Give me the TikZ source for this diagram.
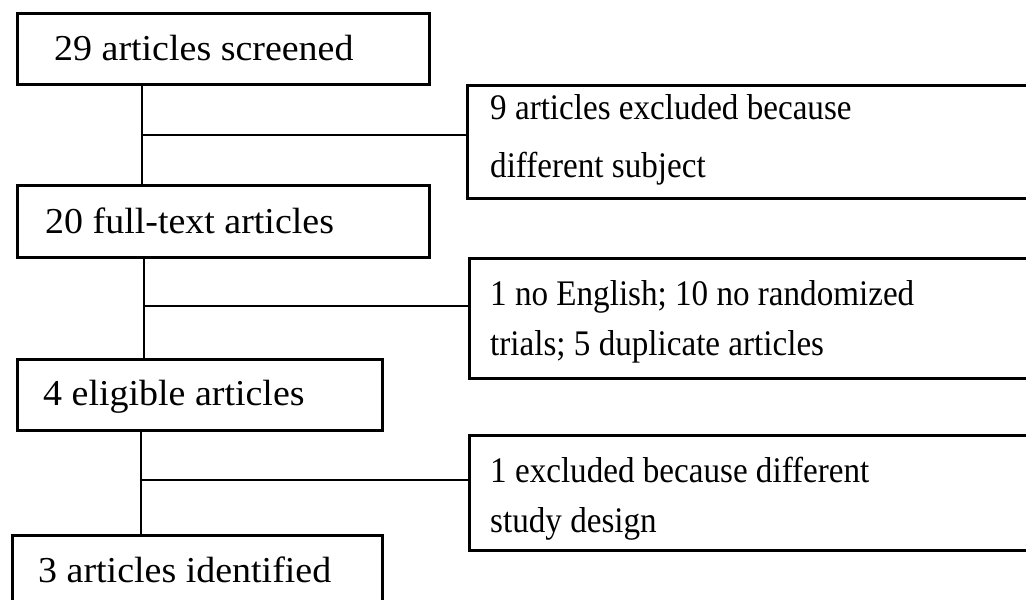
\documentclass[tikz,border=0pt]{standalone}
\usepackage{fontspec}
\setmainfont{Liberation Serif}
\newfontfamily\narrowfont[FakeStretch=0.92]{Liberation Serif}
\newfontfamily\widefont[FakeStretch=1.04]{Liberation Serif}
\begin{document}
\begin{tikzpicture}[x=1pt,y=-1pt,
  boxline/.style={draw=black,line width=2.6pt,inner sep=0pt,anchor=north west},
  conn/.style={draw=black,line width=2.6pt},
  txt/.style={anchor=base west,inner sep=0pt,font=\narrowfont\fontsize{36}{40}\selectfont},
  wtxt/.style={anchor=base west,inner sep=0pt,font=\widefont\fontsize{36.5}{40}\selectfont}]
\clip (0,0) rectangle (1026,600);
\fill[white] (0,0) rectangle (1026,600);
% boxes
\node[boxline,minimum width=412pt,minimum height=71pt] (b1) at (16,12) {};
\node[boxline,minimum width=412pt,minimum height=72pt] (b2) at (16,184) {};
\node[boxline,minimum width=365pt,minimum height=71pt] (b3) at (16,358) {};
\node[boxline,minimum width=370pt,minimum height=110pt] (b4) at (11,534) {};
\node[boxline,minimum width=600pt,minimum height=113pt] (r1) at (466,84) {};
\node[boxline,minimum width=600pt,minimum height=120pt] (r2) at (468,257) {};
\node[boxline,minimum width=600pt,minimum height=115pt] (r3) at (468,434) {};
% texts
\node[wtxt] (t1) at (54,60) {29 articles screened};
\node[wtxt] (t2) at (45,233) {20 full-text articles};
\node[wtxt] (t3) at (43,405) {4 eligible articles};
\node[wtxt] (t4) at (38,582) {3 articles identified};
\node[txt] (r1a) at (490,119) {9 articles excluded because};
\node[txt] (r1b) at (490,177) {different subject};
\node[txt] (r2a) at (490,305) {1 no English; 10 no randomized};
\node[txt] (r2b) at (490,355) {trials; 5 duplicate articles};
\node[txt] (r3a) at (490,482) {1 excluded because different};
\node[txt] (r3b) at (490,532) {study design};
% junctions
\coordinate (j1) at (142,135);
\coordinate (j2) at (144,306);
\coordinate (j3) at (141,480);
% connectors
\draw[conn] (b1.south -| j1) -- (b2.north -| j1);
\draw[conn] (j1) -- (j1 -| r1.west);
\draw[conn] (b2.south -| j2) -- (b3.north -| j2);
\draw[conn] (j2) -- (j2 -| r2.west);
\draw[conn] (b3.south -| j3) -- (b4.north -| j3);
\draw[conn] (j3) -- (j3 -| r3.west);
\end{tikzpicture}
\end{document}
